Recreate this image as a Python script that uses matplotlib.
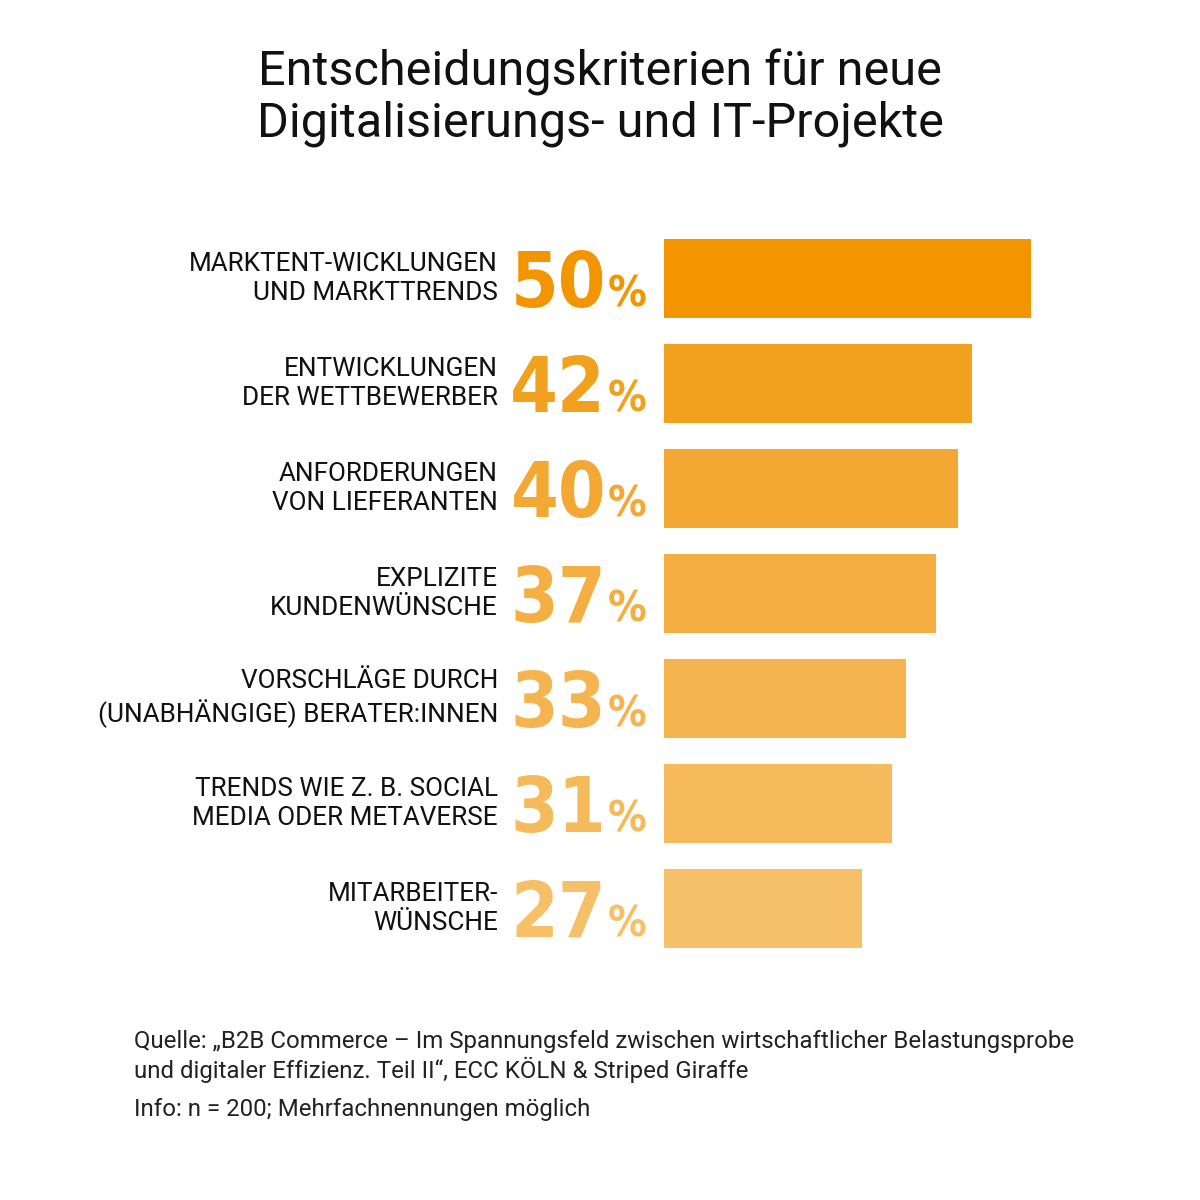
import matplotlib
matplotlib.use("Agg")
import matplotlib.pyplot as plt
from matplotlib.transforms import blended_transform_factory

plt.rcParams["font.family"] = ["Roboto", "DejaVu Sans"]

LABELS = [
    "MARKTENT-WICKLUNGEN\nUND MARKTTRENDS",
    "ENTWICKLUNGEN\nDER WETTBEWERBER",
    "ANFORDERUNGEN\nVON LIEFERANTEN",
    "EXPLIZITE\nKUNDENWÜNSCHE",
    "VORSCHLÄGE DURCH\n(UNABHÄNGIGE) BERATER:INNEN",
    "TRENDS WIE Z. B. SOCIAL\nMEDIA ODER METAVERSE",
    "MITARBEITER-\nWÜNSCHE",
]
WERTE = [50, 42, 40, 37, 33, 31, 27]
FARBEN = ["#F29500", "#F2A11E", "#F3A833", "#F4AE42", "#F5B44F", "#F5BA5B", "#F6C068"]

TITEL = "Entscheidungskriterien für neue\nDigitalisierungs- und IT-Projekte"
QUELLE = ("Quelle: „B2B Commerce – Im Spannungsfeld zwischen wirtschaftlicher Belastungsprobe\n"
          "und digitaler Effizienz. Teil II“, ECC KÖLN & Striped Giraffe")
INFO = "Info: n = 200; Mehrfachnennungen möglich"

W, H = 1200, 1200
fig = plt.figure(figsize=(12, 12), dpi=100)
fig.patch.set_facecolor("white")

# Balkenbereich: x 0 -> px 664, 7.34 px pro Prozentpunkt
px_pro_pct = 7.34
ax = fig.add_axes([664 / W, 1 - 961 / H, 60 * px_pro_pct / W, 735 / H])
ax.set_xlim(0, 60)
ax.set_ylim(len(WERTE) - 0.5, -0.5)
ax.axis("off")

pos = list(range(len(WERTE)))
ax.barh(pos, WERTE, height=0.75, color=FARBEN)

tr = blended_transform_factory(fig.transFigure, ax.transData)
for i, (lab, v, c) in enumerate(zip(LABELS, WERTE, FARBEN)):
    ax.text(498 / W, i, lab, transform=tr, ha="right", va="center",
            fontsize=18.8, color="#111111", linespacing=1.25, clip_on=False)
    ax.text(606 / W, i + 0.27, str(v), transform=tr, ha="right", va="baseline",
            fontsize=55, fontweight="bold", color=c, clip_on=False,
            family=["DejaVu Sans"], fontstretch="condensed")
    ax.text(608 / W, i + 0.27, "%", transform=tr, ha="left", va="baseline",
            fontsize=31, fontweight="bold", color=c, clip_on=False,
            family=["DejaVu Sans"], fontstretch="condensed")

fig.text(0.5, 1 - 98 / H, TITEL, ha="center", va="center", fontsize=35,
         color="#111111", linespacing=1.15)
fig.text(134 / W, 1 - 1030 / H, QUELLE, ha="left", va="top", fontsize=17.3,
         color="#222222", linespacing=1.2)
fig.text(134 / W, 1 - 1098 / H, INFO, ha="left", va="top", fontsize=17.3,
         color="#222222")

fig.savefig("out.png", dpi=100, facecolor="white")
